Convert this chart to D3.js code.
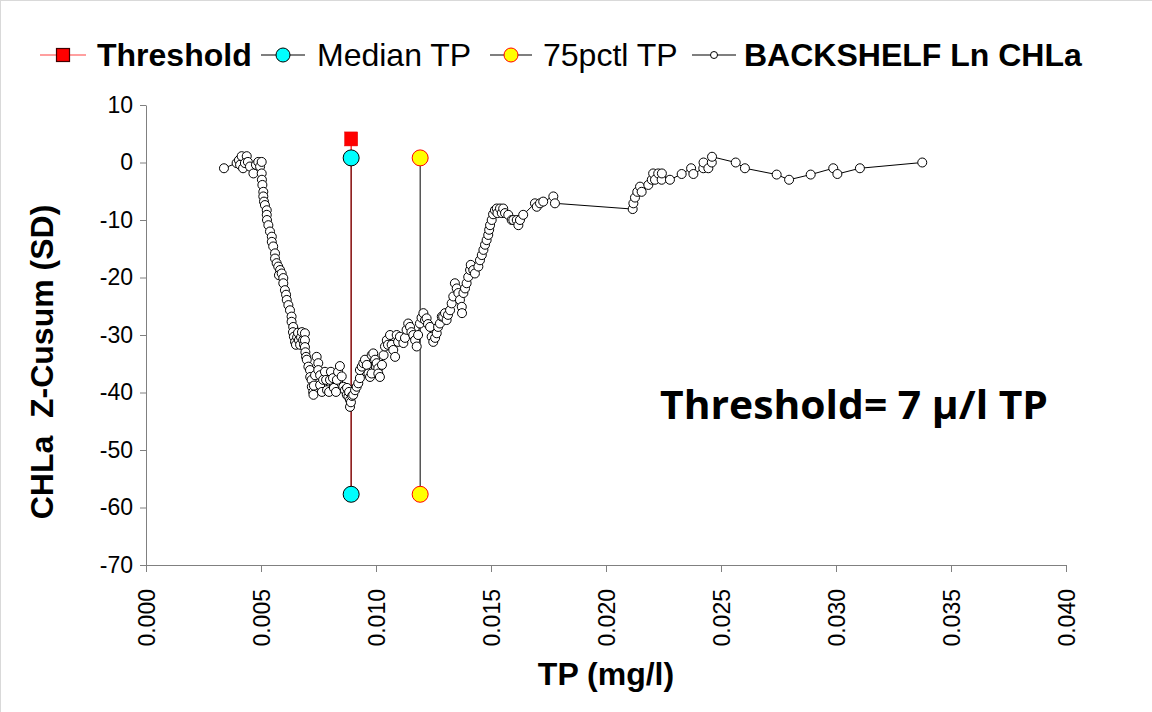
<!DOCTYPE html>
<html><head><meta charset="utf-8">
<script src="https://cdn.jsdelivr.net/npm/d3@7/dist/d3.min.js"></script>
<style>body{margin:0;background:#fff}svg{display:block}</style>
</head><body><svg id="c" width="1152" height="712" font-family="Liberation Sans, Arial, sans-serif"></svg>
<script>
const tp = [
0.00339,0.00394,0.00404,0.00416,0.00409,0.00422,0.00438,0.00430,0.00443,0.00452,
0.00467,0.00478,0.00488,0.00496,0.00503,0.00503,0.00504,0.00506,0.00510,0.00510,
0.00513,0.00517,0.00525,0.00525,0.00526,0.00532,0.00539,0.00547,0.00547,0.00553,
0.00561,0.00561,0.00568,0.00575,0.00583,0.00578,0.00590,0.00597,0.00597,0.00604,
0.00609,0.00612,0.00619,0.00626,0.00633,0.00633,0.00640,0.00639,0.00643,0.00648,
0.00652,0.00657,0.00661,0.00665,0.00670,0.00674,0.00678,0.00683,0.00687,0.00691,
0.00691,0.00691,0.00693,0.00696,0.00699,0.00706,0.00713,0.00714,0.00720,0.00721,
0.00727,0.00728,0.00730,0.00735,0.00742,0.00749,0.00749,0.00757,0.00757,0.00765,
0.00770,0.00778,0.00783,0.00787,0.00796,0.00800,0.00804,0.00813,0.00817,0.00826,
0.00830,0.00835,0.00843,0.00851,0.00858,0.00865,0.00873,0.00874,0.00880,0.00883,
0.00887,0.00887,0.00891,0.00896,0.00901,0.00909,0.00916,0.00923,0.00930,0.00930,
0.00938,0.00945,0.00952,0.00960,0.00967,0.00974,0.00981,0.00981,0.00988,0.00996,
0.01003,0.01010,0.01010,0.01017,0.01026,0.01033,0.01039,0.01047,0.01052,0.01061,
0.01068,0.01075,0.01083,0.01090,0.01096,0.01104,0.01119,0.01126,0.01133,0.01140,
0.01148,0.01154,0.01162,0.01170,0.01177,0.01183,0.01191,0.01198,0.01206,0.01213,
0.01220,0.01226,0.01235,0.01242,0.01249,0.01257,0.01264,0.01270,0.01278,0.01286,
0.01292,0.01300,0.01307,0.01313,0.01322,0.01329,0.01336,0.01343,0.01351,0.01358,
0.01365,0.01373,0.01374,0.01380,0.01387,0.01394,0.01401,0.01409,0.01412,0.01423,
0.01430,0.01445,0.01452,0.01460,0.01467,0.01474,0.01481,0.01488,0.01492,0.01496,
0.01503,0.01509,0.01517,0.01525,0.01528,0.01539,0.01547,0.01553,0.01561,0.01575,
0.01590,0.01597,0.01612,0.01619,0.01626,0.01640,0.01691,0.01699,0.01713,0.01727,
0.01771,0.01778,0.02116,0.02119,0.02126,0.02136,0.02148,0.02155,0.02184,0.02199,
0.02205,0.02213,0.02227,0.02242,0.02243,0.02278,0.02329,0.02370,0.02380,0.02423,
0.02424,0.02445,0.02460,0.02461,0.02564,0.02604,0.02742,0.02796,0.02890,0.02988,
0.03006,0.03104,0.03375];
const zcusum = [
-1.0,-0.1,0.4,1.1,-0.4,-1.0,1.1,-0.1,0.1,-0.7,
-1.9,-0.4,0.1,-0.7,0.1,-1.9,-3.0,-3.9,-5.1,-5.9,
-6.8,-7.4,-8.3,-9.1,-10.0,-10.9,-12.0,-12.9,-13.8,-14.6,
-15.8,-16.7,-17.5,-18.1,-18.7,-19.6,-19.3,-20.1,-21.0,-22.2,
-23.0,-23.9,-24.8,-25.7,-26.8,-27.7,-28.6,-29.5,-30.3,-31.2,
-31.7,-30.4,-29.6,-30.9,-31.7,-30.4,-29.5,-30.9,-31.7,-29.7,
-30.9,-32.1,-33.0,-33.8,-34.3,-35.5,-36.1,-37.3,-37.8,-39.0,
-39.9,-40.4,-38.8,-37.0,-33.8,-34.9,-36.1,-37.0,-38.7,-39.9,
-37.8,-36.4,-37.8,-39.6,-39.9,-37.8,-36.4,-37.5,-39.2,-39.9,
-37.8,-36.4,-35.4,-37.2,-39.0,-39.6,-40.4,-39.2,-40.7,-39.9,
-41.3,-42.5,-41.7,-40.6,-40.4,-39.6,-39.0,-38.4,-37.5,-36.1,
-35.5,-34.9,-34.3,-35.2,-36.7,-37.3,-36.7,-33.5,-33.2,-34.3,
-34.9,-35.8,-36.7,-37.3,-35.2,-33.5,-32.0,-30.9,-31.7,-30.0,
-31.7,-32.6,-33.8,-30.0,-31.2,-30.3,-31.4,-30.5,-29.1,-28.0,
-28.6,-29.5,-30.0,-30.9,-32.0,-30.0,-28.0,-27.0,-26.2,-27.4,
-27.1,-28.1,-28.6,-30.3,-31.2,-30.5,-29.7,-28.6,-28.0,-26.8,
-26.8,-26.2,-27.4,-26.5,-25.7,-24.5,-23.3,-21.0,-21.9,-22.7,
-23.9,-25.1,-26.2,-22.7,-21.9,-21.0,-19.9,-18.7,-17.8,-18.7,
-19.3,-18.1,-17.0,-16.1,-15.2,-14.3,-13.5,-12.6,-11.7,-10.9,
-10.0,-9.0,-8.3,-8.0,-8.8,-8.0,-8.8,-8.0,-8.8,-9.1,
-10.0,-10.0,-10.0,-10.9,-10.0,-9.1,-7.1,-7.7,-7.1,-6.8,
-5.9,-7.1,-8.1,-7.1,-6.1,-5.1,-4.2,-5.1,-3.9,-3.0,
-1.9,-3.0,-1.9,-3.0,-1.9,-3.0,-2.0,-1.0,-2.0,-1.0,
0.0,-1.0,0.0,1.0,0.0,-1.0,-2.1,-3.0,-2.1,-1.0,
-2.0,-1.0,0.0];

const thresholdX = [0.00892, 0.00892];
const thresholdY = [4.1, -57.7];
const medianX = [0.00892, 0.00892];
const medianY = [0.8, -57.7];
const pct75X = [0.01192, 0.01192];
const pct75Y = [0.8, -57.7];

const xTicks = [0,0.005,0.010,0.015,0.020,0.025,0.030,0.035,0.040];
const yTicks = [10,0,-10,-20,-30,-40,-50,-60,-70];
const legendLabels = ["Threshold","Median TP","75pctl TP","BACKSHELF Ln CHLa"];
const annotation = "Threshold= 7 \u03bc/l TP";

const svg = d3.select("#c");
svg.append("rect").attr("x",0.5).attr("y",0.5).attr("width",1170).attr("height",730)
  .attr("fill","none").attr("stroke","#d9d9d9");

const x = d3.scaleLinear().domain([0,0.040]).range([146,1066]);
const y = d3.scaleLinear().domain([-70,10]).range([565,105]);
const axisCol = "#808080";

// Y axis
const ya = svg.append("g").attr("transform","translate(146,0)")
  .call(d3.axisLeft(y).tickValues(yTicks).tickSize(6).tickSizeOuter(0).tickFormat(d => String(d)));
ya.attr("font-family",null).attr("font-size",null);
ya.select(".domain").attr("stroke",axisCol);
ya.selectAll(".tick line").attr("stroke",axisCol);
ya.selectAll(".tick text").attr("font-size",23).attr("fill","#000").attr("x",-13);

// X axis
const xa = svg.append("g").attr("transform","translate(0,565)")
  .call(d3.axisBottom(x).tickValues(xTicks).tickSize(7).tickSizeOuter(0).tickFormat(d3.format(".3f")));
xa.attr("font-family",null).attr("font-size",null);
xa.select(".domain").attr("stroke",axisCol);
xa.selectAll(".tick line").attr("stroke",axisCol);
xa.selectAll(".tick text").attr("font-size",23).attr("fill","#000")
  .attr("transform","rotate(-90)").attr("x",-24).attr("y",0).attr("dy","0.35em")
  .attr("text-anchor","end");

// Titles
svg.append("text").attr("x",606).attr("y",685).attr("text-anchor","middle")
  .attr("font-size",32).attr("font-weight","bold").text("TP (mg/l)");
svg.append("text").attr("transform","translate(53,362) rotate(-90)").attr("text-anchor","middle")
  .attr("font-size",32).attr("font-weight","bold").text("CHLa\u00a0 Z-Cusum (SD)");

// Threshold / median / 75pctl series
const line = d3.line().x(d=>x(d[0])).y(d=>y(d[1]));
const thr = thresholdX.map((v,i)=>[v,thresholdY[i]]);
const med = medianX.map((v,i)=>[v,medianY[i]]);
const p75 = pct75X.map((v,i)=>[v,pct75Y[i]]);
svg.append("path").attr("d",line(thr)).attr("fill","none").attr("stroke","#ff0000").attr("stroke-width",1.2);
svg.append("path").attr("d",line(med)).attr("fill","none").attr("stroke","#000").attr("stroke-opacity",0.6).attr("stroke-width",1.2);
svg.append("path").attr("d",line(p75)).attr("fill","none").attr("stroke","#000").attr("stroke-width",1);

// Main series
const pts = tp.map((v,i)=>[v,zcusum[i]]);
svg.append("path").attr("d",line(pts)).attr("fill","none").attr("stroke","#000").attr("stroke-width",1);
svg.append("g").selectAll("circle").data(pts).join("circle")
  .attr("cx",d=>x(d[0])).attr("cy",d=>y(d[1])).attr("r",4.5)
  .attr("fill","#fff").attr("stroke","#000").attr("stroke-width",1);

// Markers
svg.append("g").selectAll("rect").data(thr.slice(0,1)).join("rect")
  .attr("x",d=>x(d[0])-6.5).attr("y",d=>y(d[1])-7).attr("width",13).attr("height",14)
  .attr("fill","#ff0000").attr("stroke","#e00000").attr("stroke-width",0.5);
svg.append("g").selectAll("circle").data(med).join("circle")
  .attr("cx",d=>x(d[0])).attr("cy",d=>y(d[1])).attr("r",8)
  .attr("fill","#00ffff").attr("stroke","#000").attr("stroke-width",1);
svg.append("g").selectAll("circle").data(p75).join("circle")
  .attr("cx",d=>x(d[0])).attr("cy",d=>y(d[1])).attr("r",8)
  .attr("fill","#ffff00").attr("stroke","#ff0000").attr("stroke-width",1);

// Annotation
svg.append("text").attr("x",660).attr("y",419).style("font-family","'Open Sans', sans-serif")
  .attr("font-size",40).attr("font-weight","bold").attr("textLength",388)
  .attr("lengthAdjust","spacingAndGlyphs").text(annotation);

// Legend
const ly = 55;
const leg = svg.append("g");
const legItems = [
  {x0:40,x1:86,text:97,bold:true},
  {x0:261,x1:305,text:317,bold:false},
  {x0:490,x1:532,text:543,bold:false},
  {x0:692,x1:736,text:744,bold:true}
];
legItems.forEach((it,i)=>{
  const cx=(it.x0+it.x1)/2;
  leg.append("line").attr("x1",it.x0).attr("x2",it.x1).attr("y1",ly).attr("y2",ly)
    .attr("stroke", i===0?"#ff4040":"#000").attr("stroke-width",1.2);
  if(i===0) leg.append("rect").attr("x",cx-6.5).attr("y",ly-6.5).attr("width",13).attr("height",13)
      .attr("fill","#ff0000").attr("stroke","#400000").attr("stroke-width",1.2);
  if(i===1) leg.append("circle").attr("cx",cx).attr("cy",ly).attr("r",7).attr("fill","#00ffff").attr("stroke","#000");
  if(i===2) leg.append("circle").attr("cx",cx).attr("cy",ly).attr("r",7).attr("fill","#ffff00").attr("stroke","#ff0000");
  if(i===3) leg.append("circle").attr("cx",cx).attr("cy",ly).attr("r",3.5).attr("fill","#fff").attr("stroke","#000");
  leg.append("text").attr("x",it.text).attr("y",ly+11).attr("font-size",32)
    .attr("font-weight",it.bold?"bold":"normal").text(legendLabels[i]);
});
</script></body></html>
